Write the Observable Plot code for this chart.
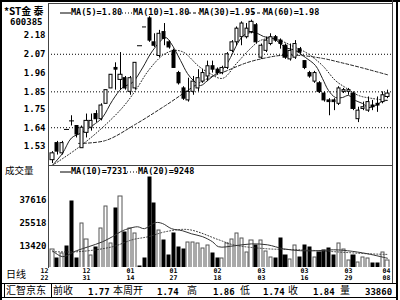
<!DOCTYPE html>
<html><head><meta charset="utf-8">
<script src="https://cdn.jsdelivr.net/npm/d3@7"></script>
<script src="https://cdn.jsdelivr.net/npm/@observablehq/plot@0.6"></script>
<style>
body{margin:0;background:#fff}
#wrap{position:relative;width:400px;height:300px;overflow:hidden;background:#fff;font-family:"DejaVu Sans Mono",monospace;color:#000}
.t{position:absolute;white-space:nowrap;font-weight:bold;line-height:1}
.cjk{font-family:"Noto Sans CJK SC",sans-serif;font-weight:normal}
.ln{position:absolute;background:#000}
#price,#vol{position:absolute;left:0}
svg{display:block}
</style></head><body><div id="wrap"><div id="price"></div><div id="vol"></div></div>
<script>
// ---------- data ----------
const stockName = "*ST金 泰";
const stockCode = "600385";
const open  = [1.45,1.55,1.49,1.63,1.68,1.65,1.52,1.61,1.64,1.72,1.69,1.78,1.87,1.99,1.92,1.93,1.85,1.87,2.12,2.23,2.28,2.14,2.06,2.20,2.14,2.09,1.96,1.87,1.80,1.85,1.87,1.91,1.94,2.00,1.98,1.96,1.99,2.09,2.14,2.17,2.17,2.20,2.24,2.05,2.09,2.13,2.17,2.15,2.12,2.04,2.05,2.10,2.03,1.96,1.91,1.90,1.84,1.80,1.80,1.78,1.85,1.85,1.84,1.69,1.75,1.74,1.77,1.78,1.79,1.82];
const high  = [1.50,1.56,1.56,1.63,1.71,1.65,1.65,1.72,1.72,1.74,1.78,1.86,1.95,2.02,2.08,1.94,1.94,2.02,2.12,2.23,2.29,2.19,2.21,2.25,2.15,2.10,1.97,1.88,1.93,1.94,1.98,1.98,2.03,2.03,1.99,2.00,2.08,2.15,2.23,2.26,2.25,2.27,2.25,2.13,2.17,2.19,2.18,2.16,2.13,2.13,2.15,2.11,2.03,1.97,1.97,1.91,1.85,1.81,1.81,1.88,1.87,1.87,1.85,1.76,1.79,1.82,1.80,1.82,1.85,1.86];
const low   = [1.43,1.48,1.48,1.63,1.65,1.58,1.52,1.58,1.62,1.67,1.68,1.78,1.87,1.86,1.86,1.86,1.83,1.86,2.12,2.23,2.14,2.11,2.05,2.12,2.10,1.99,1.89,1.80,1.79,1.83,1.85,1.90,1.91,1.96,1.95,1.95,1.98,2.08,2.12,2.12,2.16,2.19,2.13,2.04,2.08,2.12,2.14,2.10,2.04,2.03,2.04,2.07,1.98,1.93,1.90,1.84,1.79,1.71,1.74,1.77,1.84,1.83,1.74,1.67,1.74,1.73,1.74,1.73,1.78,1.81];
const close = [1.49,1.50,1.55,1.63,1.68,1.60,1.64,1.68,1.68,1.69,1.77,1.86,1.95,1.98,1.95,1.87,1.93,2.02,2.12,2.23,2.15,2.12,2.19,2.16,2.11,1.99,1.90,1.81,1.85,1.91,1.93,1.96,2.00,1.98,1.96,1.99,2.07,2.14,2.22,2.25,2.22,2.26,2.14,2.12,2.15,2.17,2.15,2.13,2.05,2.09,2.13,2.08,1.99,1.94,1.96,1.85,1.80,1.79,1.79,1.87,1.86,1.86,1.75,1.74,1.76,1.79,1.76,1.77,1.83,1.84];
const volume = [11842,7108,9738,13420,37090,7108,25518,17100,8686,12894,22888,34460,15000,33408,39720,20784,22888,20258,2900,7108,49714,36038,21836,16576,8686,20258,12894,11842,15524,15524,15000,12368,13946,9738,7108,7108,15000,17100,20258,17628,10264,16576,13946,16576,10790,7634,7108,17628,8686,6582,13946,7634,13946,12894,7634,10264,11316,12368,8686,15000,11842,6056,8686,5000,7634,7108,4478,4478,10264,6056];

// moving averages: [candle index, value]
const ma5  = [[0,1.42],[2,1.49],[4,1.58],[6,1.61],[8.9,1.665],[10.3,1.70],[12.4,1.80],[14.4,1.875],[16.5,1.905],[18.5,1.99],[20.6,2.09],[23.3,2.168],[24.3,2.139],[26.4,2.034],[27.8,1.957],[29,1.916],[30.5,1.887],[31.9,1.916],[34,1.963],[35.2,1.987],[36.7,2.051],[38.1,2.133],[39.3,2.18],[40.8,2.197],[42.2,2.192],[43.5,2.174],[45.5,2.162],[48,2.11],[50.1,2.092],[52.1,2.051],[54.2,2.004],[55.6,1.928],[56.8,1.858],[58.3,1.817],[59.7,1.817],[61,1.829],[62.4,1.799],[63.9,1.782],[65.1,1.758],[66.5,1.77],[68,1.795],[69,1.80]];
const ma10 = [[0,1.42],[5.4,1.524],[10.3,1.641],[14.4,1.758],[17.1,1.858],[19.8,1.975],[22.7,2.063],[24.9,2.092],[27,2.082],[30,2.001],[32,1.966],[35,1.929],[38,2.016],[40.8,2.104],[42.8,2.151],[45.5,2.162],[50,2.11],[52.6,2.075],[55.6,2.004],[58.3,1.916],[60.4,1.875],[63,1.829],[66,1.811],[69,1.80]];
const ma30 = [[5.4,1.548],[10.9,1.565],[17,1.66],[23.3,1.77],[31.1,1.916],[36,1.975],[40.2,2.022],[44.3,2.051],[47,2.063],[51,2.063],[55.8,2.045],[59.3,2.022],[63.4,1.993],[69,1.95]];
const volMa10 = [[0,11200],[2,8100],[5,11200],[7.5,13300],[10.3,15900],[12.4,18600],[14.4,21700],[15.7,22800],[17.6,23800],[19,22800],[21.2,26000],[22.6,25500],[24.6,22800],[26.7,21700],[28.7,20100],[30.8,18600],[32.9,15900],[34.1,13300],[37.5,13800],[40.9,14800],[44.3,14300],[47.6,12200],[51,11200],[54.5,11200],[57.9,11700],[60.8,11200],[64.9,9600],[69,7231]];
const volMa20 = [[0,10700],[5.4,10700],[12.4,13300],[16.5,17000],[19.8,18600],[23.3,21200],[28,22300],[34.1,17000],[37.3,14300],[44.3,12200],[51,11700],[57.9,10700],[64.9,9600],[69,9248]];

const dateMonth = ["12","12","01","01","02","03","03","03","04"];
const dateDay   = ["22","31","14","27","18","03","16","29","08"];
const dateIdx   = [0,7,16,25,34,43,52,61,69];
const priceTicks = [2.18,2.07,1.96,1.85,1.75,1.64,1.53];
const priceGrid  = [2.07,1.85,1.64];
const volTicks   = [37616,25518,13420];
const priceLegend = [["MA(5)","1.80"],["MA(10)","1.80"],["MA(30)","1.95"],["MA(60)","1.98"]];
const volLegend   = [["MA(10)","7231"],["MA(20)","9248"]];
const infoLabels = ["前收","本周开","高","低","收","量"];
const infoValues = ["1.77","1.74","1.86","1.74","1.84","33860"];
const brand = "汇智京东";

// ---------- build ----------
const candles = open.map((o,i)=>({i,o,h:high[i],l:low[i],c:close[i],v:volume[i],up:close[i]>o}));
const pts = a => a.map(([i,v])=>({i,v}));
const xScale = {domain:[-0.82, 70.03], round:true, axis:null, label:null};
const font = {fontFamily:"DejaVu Sans Mono", fontSize:"9px", fontWeight:"bold", background:"transparent", color:"#000"};
const monthOf = new Map(dateIdx.map((d,k)=>[d, dateMonth[k]]));
const dayOf = new Map(dateIdx.map((d,k)=>[d, dateDay[k]]));

const price = Plot.plot({
  width:400, height:166, marginLeft:48, marginRight:8, marginTop:5, marginBottom:1,
  style:font,
  x:xScale,
  y:{domain:[1.4188,2.3556], label:null},
  marks:[
    Plot.ruleY(priceGrid,{stroke:"#000",strokeDasharray:"1,2",strokeWidth:1}),
    Plot.axisY(priceTicks,{tickSize:0,tickPadding:3,tickFormat:d3.format(".2f"),fontSize:9,fontWeight:"bold",label:null}),
    Plot.line(pts(ma30),{x:"i",y:"v",stroke:"#222",strokeWidth:1,strokeDasharray:"3,2",curve:"catmull-rom",clip:true}),
    Plot.line(pts(ma10),{x:"i",y:"v",stroke:"#222",strokeWidth:1,strokeDasharray:"1,2",curve:"catmull-rom",clip:true}),
    Plot.line(pts(ma5),{x:"i",y:"v",stroke:"#222",strokeWidth:1,curve:"catmull-rom",clip:true}),
    Plot.ruleX(candles,{x:"i",y1:"l",y2:"h",stroke:"#000",strokeWidth:1}),
    Plot.rect(candles.filter(d=>d.o!==d.c),{x1:d=>d.i-0.32,x2:d=>d.i+0.32,y1:"o",y2:"c",fill:d=>d.up?"#fff":"#000",stroke:"#000",strokeWidth:1}),
    Plot.ruleY(candles.filter(d=>d.o===d.c),{x1:d=>d.i-0.45,x2:d=>d.i+0.45,y:"c",stroke:"#000",strokeWidth:1})
  ]
});
document.getElementById("price").appendChild(price);

const dateAxis = (ticks, fmt, pad, dx) => Plot.axisX(ticks,{tickSize:0,tickPadding:pad,tickFormat:fmt,fontSize:6.5,fontWeight:"bold",label:null,dx});
const vol = Plot.plot({
  width:400, height:117, marginLeft:48, marginRight:8, marginTop:0, marginBottom:15,
  style:font,
  x:xScale,
  y:{domain:[2374,56026], label:null},
  marks:[
    Plot.axisY(volTicks,{tickSize:0,tickPadding:2,tickFormat:d3.format("d"),fontSize:9,fontWeight:"bold",label:null}),
    Plot.rect(candles,{x1:d=>d.i-0.32,x2:d=>d.i+0.32,y1:0,y2:"v",fill:d=>d.up?"#fff":"#000",stroke:d=>d.up?"#555":"#000",strokeWidth:1,clip:true}),
    Plot.line(pts(volMa20),{x:"i",y:"v",stroke:"#333",strokeWidth:1,strokeDasharray:"1,2",curve:"catmull-rom",clip:true}),
    Plot.line(pts(volMa10),{x:"i",y:"v",stroke:"#333",strokeWidth:1,curve:"catmull-rom",clip:true}),
    dateAxis(dateIdx.slice(1,-1), d=>monthOf.get(d), 1, 0),
    dateAxis(dateIdx.slice(1,-1), d=>dayOf.get(d), 8, 0),
    dateAxis(dateIdx.slice(0,1), d=>monthOf.get(d), 1, -8),
    dateAxis(dateIdx.slice(0,1), d=>dayOf.get(d), 8, -8),
    dateAxis(dateIdx.slice(-1), d=>monthOf.get(d), 1, -1),
    dateAxis(dateIdx.slice(-1), d=>dayOf.get(d), 8, -1)
  ]
});
const volDiv = document.getElementById("vol");
volDiv.style.top = "165px";
volDiv.appendChild(vol);

// ---------- frame & texts ----------
const wrap = document.getElementById("wrap");
function line(x,y,w,h,c){const d=document.createElement("div");d.className="ln";Object.assign(d.style,{left:x+"px",top:y+"px",width:w+"px",height:h+"px",background:c||"#000"});wrap.appendChild(d);}
function txt(s,x,y,size,cls,extra){const d=document.createElement("div");d.className="t "+(cls||"");d.textContent=s;Object.assign(d.style,{left:x+"px",top:y+"px",fontSize:size+"px"},extra||{});wrap.appendChild(d);return d;}
line(0,0,400,2); line(0,0,2,300);
line(48,3,345,1,"#444"); line(48,3,1,265,"#444");
line(48,165,345,1,"#444");
line(392,0,1,283,"#444"); line(396,0,2,300);
line(0,283,398,1); line(0,297,398,1);
line(4,284,1,13); line(51,284,1,13);

txt(stockName,4,6,10,"cjk",{fontWeight:"bold"});
txt(stockCode,10,18,9);
txt("成交量",5,166,9.5,"cjk");
txt("日线",6,269,10,"cjk");
txt(brand,6,285,10,"cjk");

const legendX=[60,122,188,252], legendDash=["none","1,2","3,2","3,2"];
priceLegend.forEach(([n,v],k)=>{
  const s=document.createElementNS("http://www.w3.org/2000/svg","svg");
  Object.assign(s.style,{position:"absolute",left:legendX[k]+"px",top:"12px"});
  s.setAttribute("width",11);s.setAttribute("height",2);
  s.innerHTML=`<line x1="0" x2="11" y1="1" y2="1" stroke="#000" stroke-dasharray="${legendDash[k]}"/>`;
  wrap.appendChild(s);
  txt(n+"="+v,legendX[k]+11,8,8.5);
});
const vlegX=[60,127];
volLegend.forEach(([n,v],k)=>{
  const s=document.createElementNS("http://www.w3.org/2000/svg","svg");
  Object.assign(s.style,{position:"absolute",left:vlegX[k]+"px",top:"171px"});
  s.setAttribute("width",11);s.setAttribute("height",2);
  s.innerHTML=`<line x1="0" x2="11" y1="1" y2="1" stroke="#000" stroke-dasharray="${k?"1,2":"none"}"/>`;
  wrap.appendChild(s);
  txt(n+"="+v,vlegX[k]+11,167,8.5);
});
const infoLX=[53,113,187,240,288,340], infoVX=[88,157,213,263,313,365];
infoLabels.forEach((s,k)=>{txt(s,infoLX[k],285,10,"cjk");txt(infoValues[k],infoVX[k],288,9);});
</script></body></html>
